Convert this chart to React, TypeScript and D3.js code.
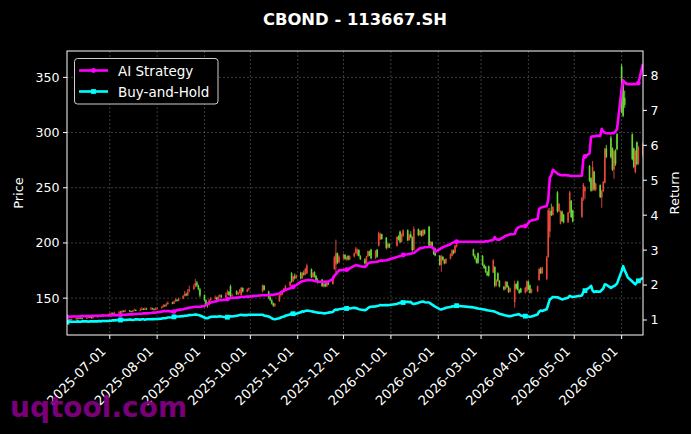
import * as d3 from 'd3';

// trading calendar (weekdays minus exchange holidays)
const startDay = '2025-06-03';
const endDay = '2026-06-15';
const holidays = [
  '2025-10-01', '2025-10-02', '2025-10-03', '2025-10-06', '2025-10-07', '2025-10-08',
  '2026-01-01', '2026-01-02',
  '2026-02-16', '2026-02-17', '2026-02-18', '2026-02-19', '2026-02-20', '2026-02-23',
  '2026-04-06', '2026-05-01', '2026-05-04', '2026-05-05',
];

// one line per month, Jun 2025 .. Jun 2026
const opens = [
  129.0,129.9,130.6,130.0,131.0,131.7,131.1,132.2,131.8,131.4,132.1,132.9,132.6,131.8,132.7,133.4,134.3,133.7,134.6,134.1,
  135.0,135.5,136.6,135.9,137.0,137.7,137.0,138.4,137.7,138.8,138.2,137.5,138.5,139.3,138.6,139.6,140.4,139.5,140.5,139.8,140.7,140.2,139.4,
  140.2,140.9,142.0,143.4,142.8,144.6,146.0,145.0,147.1,148.5,147.5,149.6,152.0,153.8,152.4,156.0,158.2,160.6,164.1,161.3,158.0,
  152.6,148.0,144.5,143.9,148.1,149.5,150.7,148.6,151.4,152.6,150.8,153.3,155.8,160.9,151.9,156.4,153.5,154.8,152.9,159.2,155.9,158.0,
  156.1,161.3,156.0,150.8,148.0,145.3,143.2,147.1,152.6,153.8,155.6,158.6,161.2,172.4,165.3,169.7,168.2,
  173.1,168.0,173.0,171.5,172.4,176.2,169.2,173.5,170.1,166.3,166.8,161.2,163.1,160.8,165.0,162.8,176.2,180.4,190.6,182.4,
  186.1,189.2,185.7,188.3,185.1,187.9,190.9,189.5,193.7,188.0,185.1,181.6,187.9,192.2,194.1,186.2,193.9,197.4,203.2,207.9,204.8,195.8,199.0,
  197.3,205.6,210.3,201.1,206.2,211.5,202.6,207.7,205.2,193.8,212.5,207.2,210.8,206.7,211.7,214.8,197.6,200.6,195.1,194.8,
  188.4,180.1,187.4,184.4,181.7,185.7,188.4,193.2,191.3,196.8,194.1,188.3,185.5,190.7,
  188.3,180.0,178.6,173.4,178.9,173.2,178.1,161.4,172.6,165.6,160.3,158.1,164.6,159.8,155.8,146.4,162.8,165.1,157.4,158.8,155.0,156.3,
  165.0,161.6,155.1,156.2,166.3,176.2,172.4,167.4,187.2,210.4,229.1,225.4,245.8,228.8,217.5,228.5,225.6,218.8,227.7,238.1,229.4,
  223.6,241.1,246.8,269.8,258.7,248.1,264.6,248.3,252.4,241.3,247.1,254.6,285.6,295.3,285.8,266.6,283.4,298.6,
  360.1,343.2,331.5,344.9,343.6,298.4,285.7,264.2,291.2,272.1,279.4,
];
const highs = [
  130.6,131.0,131.2,131.5,132.3,132.2,132.6,132.8,132.3,132.9,133.6,133.4,133.0,133.2,134.0,135.0,134.8,135.4,135.1,136.0,
  136.5,137.2,137.0,137.8,138.6,138.3,139.4,139.0,139.8,139.3,138.7,139.2,140.6,139.9,140.8,141.9,141.0,141.7,141.2,142.1,141.3,140.8,141.6,
  141.9,142.8,144.6,144.1,145.9,147.2,146.8,147.9,149.8,149.2,150.6,153.0,156.4,155.1,158.2,161.3,162.7,167.3,165.6,162.2,159.3,
  153.4,148.9,146.1,149.2,151.0,152.4,151.3,152.8,153.7,153.2,155.1,157.6,156.4,162.2,154.3,157.1,155.6,158.3,160.3,159.8,158.8,159.6,
  162.4,161.9,156.8,152.1,148.9,146.0,145.6,153.2,154.8,156.1,159.3,162.0,165.4,173.5,170.2,172.3,171.4,
  174.0,173.6,175.1,177.4,181.3,176.9,173.8,174.3,170.8,168.1,167.4,163.6,164.0,165.9,165.7,170.3,188.4,203.0,191.3,188.9,
  190.3,189.8,187.8,188.9,188.7,191.5,196.4,195.1,194.2,188.9,186.2,188.4,193.2,193.0,194.7,193.5,194.6,210.3,209.4,208.5,205.4,200.3,199.7,
  206.2,207.1,211.2,208.6,212.4,212.3,208.2,210.6,206.0,215.0,213.1,211.8,211.4,212.6,212.3,215.4,201.9,201.4,196.0,195.6,
  189.0,189.3,188.1,185.3,186.3,190.6,194.2,194.0,198.4,199.1,194.8,190.1,186.6,191.4,
  189.0,181.2,179.3,174.6,179.5,185.4,178.9,167.2,173.4,166.5,161.1,165.6,165.3,161.4,159.6,165.8,163.5,165.9,158.3,159.4,160.3,166.1,
  165.8,162.3,158.6,161.4,177.2,178.1,178.4,188.2,231.5,231.8,235.6,233.4,246.9,236.2,229.6,229.3,226.3,228.4,247.3,238.9,230.2,
  241.7,254.3,251.4,270.6,259.5,274.2,265.3,254.6,253.1,248.1,256.2,286.3,288.9,297.2,286.6,284.3,285.0,299.4,
  362.2,344.6,338.0,346.1,345.4,299.3,286.4,284.1,292.0,287.9,291.6,
];
const lows = [
  128.3,129.4,129.6,129.8,130.6,130.8,130.9,131.3,130.7,131.1,131.8,132.0,131.4,131.5,132.3,133.0,133.2,133.4,133.6,133.9,
  134.6,135.2,135.5,135.6,136.5,136.6,136.8,137.2,137.4,137.6,136.9,137.1,138.1,138.2,138.3,139.2,139.1,139.2,139.4,139.5,139.6,138.9,139.1,
  139.8,140.5,141.6,142.0,142.4,144.1,144.4,144.7,146.6,146.8,147.2,149.1,151.5,151.7,152.0,155.4,157.5,159.8,160.2,157.0,150.9,
  146.8,142.6,141.3,143.2,147.4,148.6,147.5,148.2,150.6,149.8,150.4,152.8,152.1,150.4,149.6,152.8,152.4,154.2,152.1,155.1,155.3,156.6,
  155.2,156.8,149.3,147.3,144.2,142.0,141.9,146.6,151.3,152.7,154.9,157.8,160.4,163.8,164.7,166.9,167.4,
  166.9,167.5,170.2,170.9,171.9,168.1,168.5,168.6,165.3,163.2,160.1,159.8,159.9,160.2,161.8,162.1,175.8,172.3,181.0,181.6,
  185.3,184.6,183.9,184.2,184.5,186.7,190.2,188.3,187.5,184.6,180.3,181.0,187.2,188.1,185.2,185.6,186.8,196.8,202.5,202.9,194.2,194.9,195.4,
  196.8,202.3,199.8,200.4,205.5,201.6,201.9,204.3,192.0,193.1,206.3,206.6,205.7,206.1,207.6,196.3,196.2,194.4,189.1,187.9,
  179.2,173.9,183.8,180.6,181.0,185.1,187.8,189.7,190.6,195.9,187.6,184.9,181.3,181.0,
  179.1,176.4,172.8,169.9,169.5,172.6,159.8,160.6,164.9,159.7,156.9,157.6,159.2,154.7,155.1,141.3,157.9,156.8,153.9,154.6,154.2,155.8,
  157.2,154.1,154.4,155.6,165.8,171.9,171.8,166.3,186.5,204.9,224.3,224.8,227.4,228.1,216.8,219.1,217.8,218.1,226.9,222.6,218.6,
  222.8,238.2,239.5,255.3,246.4,246.9,247.2,246.9,240.6,231.9,245.9,253.9,276.8,276.5,265.2,258.1,269.8,283.7,
  317.3,313.9,322.4,343.2,342.9,274.8,267.6,263.0,270.3,270.8,277.5,
];
const closes = [
  129.8,130.4,130.1,130.9,131.5,131.2,132.0,131.7,131.3,132.2,132.8,132.5,131.9,132.6,133.3,134.1,133.8,134.5,134.2,134.9,
  135.6,136.4,136.0,136.9,137.5,137.1,138.2,137.8,138.6,138.1,137.6,138.4,139.1,138.7,139.5,140.2,139.6,140.4,139.9,140.6,140.1,139.5,140.3,
  140.8,141.9,143.2,142.7,144.5,145.8,145.1,146.9,148.3,147.6,149.4,151.8,153.5,152.6,155.8,157.9,160.4,163.8,161.5,158.2,152.4,
  148.2,144.6,143.8,147.9,149.3,150.5,148.7,151.2,152.4,150.9,153.1,155.6,153.0,151.8,152.6,153.6,154.9,157.4,159.4,156.0,157.9,158.9,
  161.5,157.4,150.6,148.2,145.1,143.4,144.8,152.4,153.9,155.4,158.8,160.9,164.6,165.1,169.5,168.0,170.6,
  167.8,172.9,171.3,176.6,179.6,169.0,172.7,169.9,166.1,164.4,161.0,162.9,160.6,165.2,162.5,169.4,187.1,190.8,182.2,187.6,
  189.4,185.5,186.9,184.9,187.8,190.6,194.8,193.9,188.2,185.3,181.4,187.7,192.4,188.9,186.0,192.8,187.5,208.9,208.1,203.6,195.6,199.2,196.5,
  205.4,203.1,200.9,207.9,211.3,202.4,207.5,205.0,193.4,212.7,207.0,211.0,206.5,211.9,208.4,197.4,200.8,195.3,190.2,188.6,
  180.3,187.6,184.6,181.5,185.5,189.8,193.4,190.5,197.6,198.3,188.5,185.7,182.2,182.0,
  180.2,177.3,173.6,170.8,170.4,184.3,161.2,166.3,165.8,160.5,157.8,164.8,160.0,155.6,158.9,162.6,158.6,157.6,154.7,155.2,159.4,165.2,
  158.1,154.9,157.9,160.7,176.4,172.6,177.7,186.9,229.6,228.9,225.2,232.6,228.6,235.4,228.7,219.9,218.6,227.5,245.8,223.5,219.5,
  240.9,252.8,250.7,256.4,247.3,268.7,248.5,253.8,241.5,246.9,255.1,285.4,278.0,277.6,266.4,283.2,271.5,284.9,
  318.6,315.2,325.1,343.8,344.7,275.9,268.8,283.3,271.4,286.6,290.3,
];

const aiReturn = [
  1.09,1.09,1.09,1.10,1.10,1.10,1.10,1.11,1.11,1.11,1.11,1.11,1.12,1.12,1.12,1.12,1.12,1.13,1.13,1.13,
  1.13,1.13,1.14,1.14,1.14,1.14,1.15,1.15,1.15,1.16,1.16,1.16,1.17,1.17,1.18,1.18,1.19,1.19,1.19,1.20,1.21,1.21,1.21,
  1.22,1.24,1.25,1.26,1.25,1.26,1.24,1.24,1.26,1.28,1.29,1.31,1.32,1.33,1.34,1.35,1.37,1.38,1.38,1.37,1.38,
  1.40,1.43,1.46,1.48,1.50,1.53,1.54,1.56,1.57,1.57,1.58,1.60,1.61,1.63,1.63,1.64,1.64,1.65,1.66,1.66,1.67,1.67,
  1.71,1.71,1.71,1.72,1.72,1.72,1.73,1.76,1.79,1.82,1.84,1.86,1.91,1.93,1.95,1.98,2.00,
  2.09,2.11,2.12,2.13,2.14,2.14,2.13,2.12,2.11,2.10,2.09,2.09,2.10,2.09,2.10,2.18,2.26,2.31,2.37,2.42,
  2.43,2.43,2.44,2.44,2.48,2.55,2.57,2.56,2.55,2.54,2.52,2.55,2.62,2.64,2.65,2.66,2.67,2.68,2.70,2.70,2.71,2.72,2.74,
  2.80,2.82,2.83,2.84,2.86,2.88,2.89,2.90,2.91,2.92,3.02,3.05,3.06,3.07,3.08,3.09,3.10,3.09,3.05,2.95,
  3.03,3.06,3.08,3.10,3.12,3.17,3.20,3.22,3.24,3.24,3.24,3.24,3.24,3.24,
  3.24,3.24,3.25,3.25,3.26,3.29,3.37,3.31,3.30,3.30,3.38,3.41,3.42,3.44,3.45,3.46,3.58,3.64,3.66,3.68,3.69,3.72,
  3.78,3.83,3.85,3.89,4.18,4.21,4.23,4.26,4.45,5.07,5.15,5.30,5.19,5.17,5.15,5.14,5.15,5.14,5.13,5.12,5.12,
  5.13,5.62,5.68,5.77,6.24,6.26,6.25,6.27,6.27,6.47,6.40,6.36,6.35,6.34,6.35,6.35,6.40,6.46,
  7.60,7.86,7.80,7.76,7.75,7.75,7.75,7.75,7.76,7.78,8.33,
];
const bhReturn = [
  0.94,0.95,0.95,0.95,0.95,0.96,0.95,0.95,0.96,0.96,0.95,0.96,0.96,0.96,0.96,0.97,0.96,0.97,0.97,0.97,
  0.98,0.98,0.99,0.99,1.00,1.00,1.00,1.01,1.00,1.01,1.01,1.00,1.01,1.02,1.01,1.02,1.02,1.01,1.02,1.02,1.03,1.02,1.03,
  1.03,1.04,1.05,1.05,1.06,1.07,1.08,1.09,1.09,1.10,1.10,1.11,1.12,1.12,1.13,1.14,1.15,1.16,1.15,1.14,1.13,
  1.07,1.05,1.05,1.07,1.09,1.10,1.09,1.10,1.11,1.10,1.08,1.08,1.09,1.11,1.10,1.12,1.13,1.14,1.15,1.14,1.14,1.15,
  1.15,1.13,1.10,1.08,1.05,1.03,1.02,1.05,1.07,1.09,1.10,1.12,1.16,1.19,1.18,1.17,1.18,
  1.22,1.25,1.24,1.26,1.27,1.25,1.24,1.23,1.22,1.21,1.20,1.19,1.19,1.20,1.21,1.23,1.28,1.30,1.29,1.31,
  1.33,1.32,1.33,1.34,1.33,1.35,1.34,1.33,1.31,1.30,1.28,1.30,1.34,1.37,1.38,1.39,1.40,1.41,1.43,1.42,1.43,1.42,1.43,
  1.46,1.48,1.49,1.51,1.50,1.52,1.51,1.52,1.47,1.46,1.49,1.51,1.52,1.53,1.51,1.50,1.47,1.44,1.41,1.38,
  1.31,1.30,1.32,1.33,1.35,1.37,1.39,1.39,1.40,1.41,1.36,1.35,1.34,1.33,
  1.31,1.30,1.29,1.28,1.27,1.25,1.24,1.22,1.20,1.18,1.14,1.13,1.12,1.11,1.11,1.14,1.15,1.16,1.16,1.13,1.11,1.10,
  1.10,1.09,1.10,1.16,1.24,1.27,1.26,1.31,1.45,1.59,1.62,1.66,1.65,1.63,1.61,1.59,1.60,1.64,1.69,1.67,1.66,
  1.70,1.80,1.84,1.93,1.98,1.84,1.80,1.82,1.81,1.86,1.90,2.02,2.01,1.92,1.95,1.97,2.00,2.04,
  2.40,2.54,2.42,2.33,2.22,2.10,2.06,2.02,2.08,2.12,2.21,
];

const xTickLabels = [
  '2025-07-01', '2025-08-01', '2025-09-01', '2025-10-01', '2025-11-01', '2025-12-01',
  '2026-01-01', '2026-02-01', '2026-03-01', '2026-04-01', '2026-05-01', '2026-06-01',
];

const W = 691;
const H = 434;
const left = 67;
const right = 643;
const top = 51;
const bottom = 335;
const font = 'DejaVu Sans, sans-serif';
const upColor = '#ff5040';
const downColor = '#72f03c';
const aiColor = '#ff00ff';
const bhColor = '#00ffff';

const parse = d3.timeParse('%Y-%m-%d');
const fmt = d3.timeFormat('%Y-%m-%d');

function tradingDays(): Date[] {
  const off = new Set(holidays);
  return d3.timeDay
    .range(parse(startDay)!, d3.timeDay.offset(parse(endDay)!, 1))
    .filter((d) => d.getDay() !== 0 && d.getDay() !== 6 && !off.has(fmt(d)));
}

export default function App() {
  const dates = tradingDays();
  const n = Math.min(dates.length, closes.length);
  const idx = d3.range(n);

  const x = d3.scaleTime().domain([dates[0], dates[n - 1]]).range([left, right]);

  // matplotlib-style 5% margins
  const pLo = d3.min(lows)!;
  const pHi = d3.max(highs)!;
  const yPrice = d3
    .scaleLinear()
    .domain([pLo - 0.05 * (pHi - pLo), pHi + 0.05 * (pHi - pLo)])
    .range([bottom, top]);
  const rLo = Math.min(d3.min(aiReturn)!, d3.min(bhReturn)!);
  const rHi = Math.max(d3.max(aiReturn)!, d3.max(bhReturn)!);
  const yRet = d3
    .scaleLinear()
    .domain([rLo - 0.05 * (rHi - rLo), rHi + 0.05 * (rHi - rLo)])
    .range([bottom, top]);

  const priceTicks = yPrice.ticks(5);
  const retTicks = yRet.ticks(8);

  const lineOf = (vals: number[]) =>
    d3
      .line<number>()
      .x((i) => x(dates[i]))
      .y((i) => yRet(vals[i]))(idx) || '';

  const markerIdx = idx.filter((i) => i % 25 === 0);

  return (
    <div style={{ position: 'fixed', left: 0, top: 0 }}>
      <svg width={W} height={H} style={{ display: 'block', background: '#000' }} fontFamily={font}>
        <rect width={W} height={H} fill="#000" />
        <defs>
          <clipPath id="plot">
            <rect x={left} y={top} width={right - left} height={bottom - top} />
          </clipPath>
        </defs>

        <text x={355} y={24.5} textAnchor="middle" fill="#fff" fontSize={16.4} fontWeight="bold">
          CBOND - 113667.SH
        </text>

        {/* grid */}
        <g stroke="#6a6a6a" strokeWidth={0.7} strokeDasharray="2,2" opacity={0.8}>
          {xTickLabels.map((t) => {
            const xx = x(parse(t)!);
            return <line key={t} x1={xx} x2={xx} y1={top} y2={bottom} />;
          })}
          {priceTicks.map((t) => (
            <line key={t} x1={left} x2={right} y1={yPrice(t)} y2={yPrice(t)} />
          ))}
        </g>

        {/* candles */}
        <g clipPath="url(#plot)" opacity={0.9}>
          {idx.map((i) => {
            const up = closes[i] >= opens[i];
            const c = up ? upColor : downColor;
            const xx = x(dates[i]);
            const yt = yPrice(Math.max(opens[i], closes[i]));
            const yb = yPrice(Math.min(opens[i], closes[i]));
            return (
              <g key={i}>
                <line x1={xx} x2={xx} y1={yPrice(highs[i])} y2={yPrice(lows[i])} stroke={c} strokeWidth={0.9} />
                <rect x={xx - 0.8} y={yt} width={1.6} height={Math.max(0.8, yb - yt)} fill={c} />
              </g>
            );
          })}
        </g>

        {/* strategy lines */}
        <g clipPath="url(#plot)">
          <path d={lineOf(aiReturn)} fill="none" stroke={aiColor} strokeWidth={2.6} strokeLinejoin="round" />
          {markerIdx.map((i) => (
            <circle key={i} cx={x(dates[i])} cy={yRet(aiReturn[i])} r={2.4} fill={aiColor} />
          ))}
          <path d={lineOf(bhReturn)} fill="none" stroke={bhColor} strokeWidth={2.6} strokeLinejoin="round" />
          {markerIdx.map((i) => (
            <rect key={i} x={x(dates[i]) - 2.4} y={yRet(bhReturn[i]) - 2.4} width={4.8} height={4.8} fill={bhColor} />
          ))}
        </g>

        {/* frame */}
        <rect x={left} y={top} width={right - left} height={bottom - top} fill="none" stroke="#fff" strokeWidth={1} />

        {/* left axis */}
        <g fill="#fff" fontSize={12.6}>
          {priceTicks.map((t) => (
            <g key={t}>
              <line x1={left - 4} x2={left} y1={yPrice(t)} y2={yPrice(t)} stroke="#fff" />
              <text x={left - 7.5} y={yPrice(t)} dy="0.35em" textAnchor="end">
                {t}
              </text>
            </g>
          ))}
          <text transform={`translate(22.5,${(top + bottom) / 2}) rotate(-90)`} textAnchor="middle" fontSize={13}>
            Price
          </text>
        </g>

        {/* right axis */}
        <g fill="#fff" fontSize={12.6}>
          {retTicks.map((t) => (
            <g key={t}>
              <line x1={right} x2={right + 4} y1={yRet(t)} y2={yRet(t)} stroke="#fff" />
              <text x={right + 7.5} y={yRet(t)} dy="0.35em" textAnchor="start">
                {t}
              </text>
            </g>
          ))}
          <text transform={`translate(678.5,${(top + bottom) / 2}) rotate(-90)`} textAnchor="middle" fontSize={13}>
            Return
          </text>
        </g>

        {/* bottom axis */}
        <g fill="#fff" fontSize={13.2}>
          {xTickLabels.map((t) => {
            const xx = x(parse(t)!);
            return (
              <g key={t}>
                <line x1={xx} x2={xx} y1={bottom} y2={bottom + 4} stroke="#fff" />
                <text transform={`translate(${xx - 3},${bottom + 17}) rotate(-45)`} textAnchor="end">
                  {t}
                </text>
              </g>
            );
          })}
        </g>

        {/* legend */}
        <g>
          <rect x={74.5} y={58.5} width={143.5} height={45.5} rx={3} fill="#000" stroke="#cfcfcf" strokeWidth={1} />
          <line x1={79} x2={108} y1={70.5} y2={70.5} stroke={aiColor} strokeWidth={2.6} />
          <circle cx={93.5} cy={70.5} r={2.4} fill={aiColor} />
          <text x={118} y={75.5} fill="#fff" fontSize={13.5}>
            AI Strategy
          </text>
          <line x1={79} x2={108} y1={91.5} y2={91.5} stroke={bhColor} strokeWidth={2.6} />
          <rect x={91.1} y={89.1} width={4.8} height={4.8} fill={bhColor} />
          <text x={118} y={96.5} fill="#fff" fontSize={13.5}>
            Buy-and-Hold
          </text>
        </g>

        {/* watermark */}
        <text x={10} y={417} fill="#800080" fontSize={28} fontWeight="bold" opacity={0.95}>
          uqtool.com
        </text>
      </svg>
    </div>
  );
}
